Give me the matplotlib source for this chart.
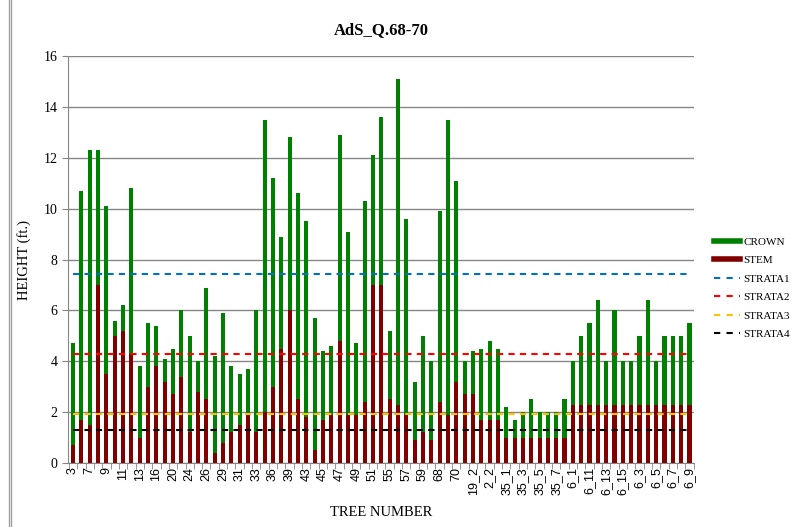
import numpy as np
import matplotlib.pyplot as plt
from matplotlib.lines import Line2D

# tree numbers (every other one is labelled on the axis)
trees = ['3', '4', '7', '8', '9', '10', '11', '12', '13', '15',
         '16', '18', '20', '22', '24', '25', '26', '27', '29', '30',
         '31', '32', '33', '35', '36', '38', '39', '42', '43', '44',
         '45', '46', '47', '48', '49', '50', '51', '54', '55', '56',
         '57', '58', '59', '60', '68', '69', '70', '10_2', '19_2', '1_2',
         '2_2', '2_3', '35_1', '35_2', '35_3', '35_4', '35_5', '35_6', '35_7', '35_8',
         '6_1', '6_10', '6_11', '6_12', '6_13', '6_14', '6_15', '6_2', '6_3', '6_4',
         '6_5', '6_6', '6_7', '6_8', '6_9']

# total height of each tree (ft.)
total = [4.7, 10.7, 12.3, 12.3, 10.1, 5.6, 6.2, 10.8, 3.8, 5.5,
         5.4, 4.1, 4.5, 6.0, 5.0, 4.0, 6.9, 4.2, 5.9, 3.8,
         3.5, 3.7, 6.0, 13.5, 11.2, 8.9, 12.8, 10.6, 9.5, 5.7,
         4.4, 4.6, 12.9, 9.1, 4.7, 10.3, 12.1, 13.6, 5.2, 15.1,
         9.6, 3.2, 5.0, 4.0, 9.9, 13.5, 11.1, 4.0, 4.4, 4.5,
         4.8, 4.5, 2.2, 1.7, 2.0, 2.5, 2.0, 2.0, 2.0, 2.5,
         4.0, 5.0, 5.5, 6.4, 4.0, 6.0, 4.0, 4.0, 5.0, 6.4,
         4.0, 5.0, 5.0, 5.0, 5.5]

# stem height (ft.)
stem = [0.7, 1.7, 1.5, 7.0, 3.5, 5.0, 5.2, 4.3, 1.0, 3.0,
        3.8, 3.2, 2.7, 3.4, 1.2, 2.8, 2.5, 0.4, 0.8, 1.2,
        1.5, 1.9, 1.2, 2.0, 3.0, 4.5, 6.0, 2.5, 1.8, 0.5,
        1.7, 1.9, 4.8, 1.9, 1.9, 2.4, 7.0, 7.0, 2.5, 2.3,
        1.9, 0.9, 1.2, 0.9, 2.4, 1.9, 3.2, 2.7, 2.7, 1.7,
        1.7, 1.7, 1.0, 1.0, 1.0, 1.0, 1.0, 1.0, 1.0, 1.0,
        2.3, 2.3, 2.3, 2.3, 2.3, 2.3, 2.3, 2.3, 2.3, 2.3,
        2.3, 2.3, 2.3, 2.3, 2.3]

crown = [t - s for t, s in zip(total, stem)]

# strata limits (ft.)
strata = [7.43, 4.27, 1.94, 1.28]
strata_names = ['STRATA1', 'STRATA2', 'STRATA3', 'STRATA4']
strata_colors = ['#0070C0', '#FF0000', '#FFC000', '#000000']

plt.rcParams['font.family'] = ['Liberation Serif', 'DejaVu Serif']

fig = plt.figure(figsize=(7.92, 5.27), dpi=100)
ax = fig.add_axes([0.0859, 0.1214, 0.790, 0.7723])

x = np.arange(len(trees))
ax.bar(x, stem, width=0.5, color='#800000', zorder=2)
ax.bar(x, crown, width=0.5, bottom=stem, color='#008000', zorder=2)

handles = [Line2D([], [], color='#008000', lw=4),
           Line2D([], [], color='#800000', lw=4)]
labels = ['CROWN', 'STEM']
for val, name, col in zip(strata, strata_names, strata_colors):
    ax.plot([x[0], x[-1]], [val, val], color=col, lw=1.5,
            dashes=(3, 2.5), zorder=3)
    handles.append(Line2D([], [], color=col, lw=1.5, dashes=(3, 3)))
    labels.append(name)

ax.set_xlim(-0.6, len(trees) - 0.5)
ax.set_ylim(0, 16)
ax.set_yticks(range(0, 17, 2))
ax.yaxis.grid(True, color='#868686', lw=1)
ax.set_axisbelow(True)

ax.set_xticks(x[::2])
ax.set_xticklabels(trees[::2], rotation=90, fontsize=9,
                   family=['Liberation Sans', 'DejaVu Sans'])
ax.set_xticks(np.arange(-0.5, len(trees), 1), minor=True)
ax.tick_params(axis='x', which='major', length=0, pad=3)
ax.tick_params(axis='x', which='minor', length=4, color='#868686')
ax.tick_params(axis='y', length=4, color='#868686', labelsize=10)

for s in ['top', 'right']:
    ax.spines[s].set_visible(False)
for s in ['left', 'bottom']:
    ax.spines[s].set_color('#868686')

ax.set_title('AdS_Q.68-70', fontsize=12, fontweight='bold', pad=16)
ax.set_ylabel('HEIGHT (ft.)', fontsize=10.5, labelpad=9)
ax.set_xlabel('TREE NUMBER', fontsize=10.5, labelpad=8)

ax.legend(handles, labels, loc='upper left', bbox_to_anchor=(0.901, 0.55),
          bbox_transform=fig.transFigure, frameon=False,
          fontsize=8, handlelength=2.4, handletextpad=0.25,
          labelspacing=0.78, borderaxespad=0, borderpad=0)

# outer window edge on the left
fig.add_artist(Line2D([0.011, 0.011], [0, 1], color='#a0a0a0', lw=1))
fig.add_artist(Line2D([0.014, 0.014], [0, 1], color='#a0a0a0', lw=1))

fig.savefig('out.png', dpi=100)
